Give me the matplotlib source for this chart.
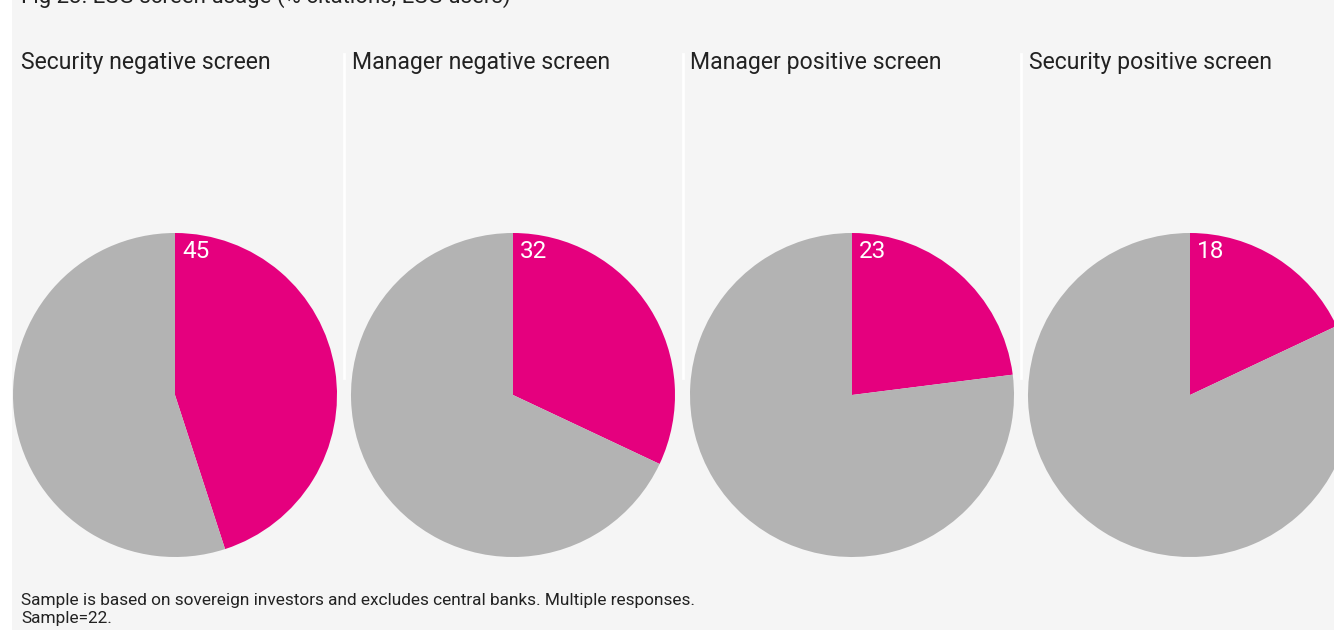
import matplotlib
matplotlib.use("Agg")
import matplotlib.pyplot as plt
from matplotlib.patches import Rectangle
from matplotlib.lines import Line2D

plt.rcParams['font.family'] = ['Roboto', 'DejaVu Sans']

# Data
screens = ["Security negative screen", "Manager negative screen",
           "Manager positive screen", "Security positive screen"]
citations = [45, 32, 23, 18]
title = "Fig 23: ESG screen usage (% citations, ESG users)"
footnote = ("Sample is based on sovereign investors and excludes central banks. Multiple responses.\n"
            "Sample=22.")

pink = "#e5007e"
grey = "#b3b3b3"
bg = "#f5f5f5"

W, H = 1334, 630
fig = plt.figure(figsize=(W / 100, H / 100), dpi=100, facecolor="white")

# light panel background
fig.patches.append(Rectangle((12 / W, 0), 1, 1, transform=fig.transFigure,
                             facecolor=bg, edgecolor="none", zorder=-5))

# title, cut off at the top edge as in the original
fig.text(21 / W, 1 - 3 / H, title, fontsize=16, color="#222222",
         ha="left", va="baseline")

centers = [175, 513, 852, 1190]
radius = 162
cy = 395
title_x = [21, 352, 690, 1029]
seps = [344, 683, 1021]

for sx in seps:
    fig.lines.append(Line2D([sx / W, sx / W], [1 - 54 / H, 1 - 378 / H],
                            transform=fig.transFigure, color="white", lw=2,
                            zorder=-1))

for i, (name, val) in enumerate(zip(screens, citations)):
    cx = centers[i]
    ax = fig.add_axes([(cx - radius) / W, (H - cy - radius) / H,
                       2 * radius / W, 2 * radius / H])
    ax.pie([val, 100 - val], colors=[pink, grey], startangle=90,
           counterclock=False, radius=1.0, wedgeprops=dict(linewidth=0))
    ax.set_xlim(-1, 1)
    ax.set_ylim(-1, 1)
    ax.set_aspect("equal")
    ax.axis("off")
    ax.text(0.045, 0.955, str(val), fontsize=17.5, color="white",
            ha="left", va="top", transform=ax.transData)
    fig.text(title_x[i] / W, 1 - 63 / H, name, fontsize=16.6, color="#222222",
             ha="left", va="center")

fig.text(21 / W, 1 - 610 / H, footnote, fontsize=12.4, color="#222222",
         ha="left", va="center", linespacing=1.25)

fig.savefig("out.png", dpi=100, facecolor=fig.get_facecolor())
